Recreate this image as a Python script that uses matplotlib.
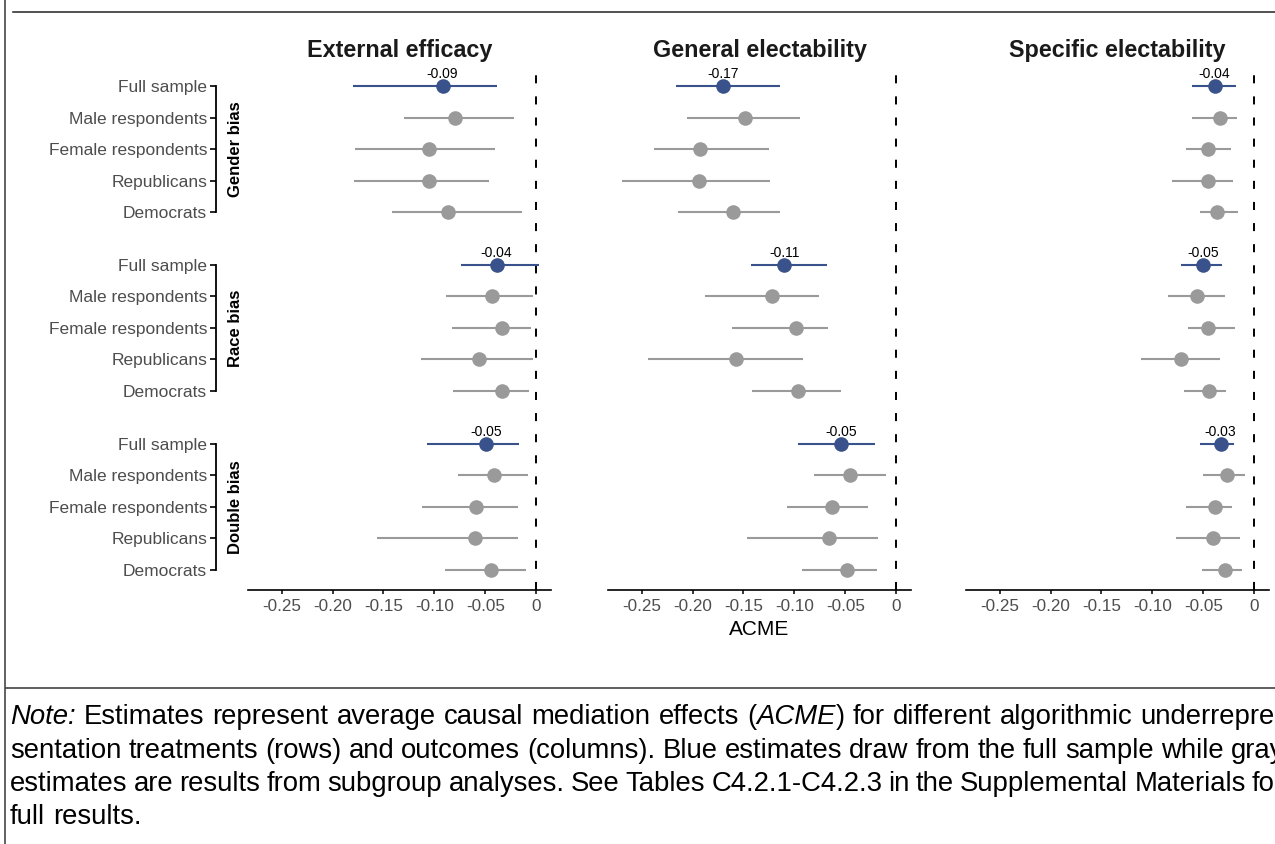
import matplotlib
matplotlib.use("Agg")
import matplotlib.pyplot as plt
import matplotlib.transforms as mtransforms
from matplotlib.lines import Line2D

plt.rcParams['font.family'] = ['Liberation Sans', 'DejaVu Sans']
plt.rcParams['lines.scale_dashes'] = False

# ---------------- data ----------------
outcomes = ["External efficacy", "General electability", "Specific electability"]
treatments = ["Gender bias", "Race bias", "Double bias"]
subgroups = ["Full sample", "Male respondents", "Female respondents", "Republicans", "Democrats"]
x_ticks = [-0.25, -0.20, -0.15, -0.10, -0.05, 0.0]
x_ticklabels = ["-0.25", "-0.20", "-0.15", "-0.10", "-0.05", "0"]

# order: gender (5), race (5), double (5)
est_external = [-0.092, -0.080, -0.105, -0.105, -0.087,
                -0.039, -0.043, -0.034, -0.056, -0.034,
                -0.049, -0.041, -0.059, -0.060, -0.044]
lo_external = [-0.180, -0.130, -0.178, -0.179, -0.142,
               -0.074, -0.089, -0.083, -0.113, -0.082,
               -0.107, -0.077, -0.112, -0.156, -0.090]
hi_external = [-0.039, -0.022, -0.040, -0.046, -0.014,
               0.003, -0.003, -0.005, -0.003, -0.007,
               -0.017, -0.008, -0.018, -0.018, -0.010]

est_general = [-0.170, -0.148, -0.193, -0.194, -0.160,
               -0.110, -0.122, -0.098, -0.157, -0.096,
               -0.054, -0.045, -0.063, -0.066, -0.048]
lo_general = [-0.216, -0.205, -0.238, -0.269, -0.214,
              -0.143, -0.188, -0.161, -0.244, -0.142,
              -0.096, -0.081, -0.107, -0.147, -0.093]
hi_general = [-0.114, -0.094, -0.125, -0.124, -0.114,
              -0.068, -0.076, -0.067, -0.092, -0.054,
              -0.021, -0.010, -0.028, -0.018, -0.019]

est_specific = [-0.039, -0.034, -0.045, -0.045, -0.037,
                -0.050, -0.056, -0.045, -0.072, -0.044,
                -0.033, -0.027, -0.039, -0.040, -0.029]
lo_specific = [-0.061, -0.061, -0.067, -0.081, -0.053,
               -0.072, -0.085, -0.065, -0.111, -0.069,
               -0.053, -0.050, -0.067, -0.077, -0.051]
hi_specific = [-0.018, -0.017, -0.023, -0.021, -0.016,
               -0.032, -0.029, -0.019, -0.034, -0.028,
               -0.020, -0.009, -0.022, -0.014, -0.012]

est_all = [est_external, est_general, est_specific]
lo_all = [lo_external, lo_general, lo_specific]
hi_all = [hi_external, hi_general, hi_specific]

# note: each line is a list of words; each word is a list of (text, style) pieces
def words(s, style="normal"):
    return [[(w, style)] for w in s.split()]

note_lines = [
    [[("Note:", "italic")]] + words("Estimates represent average causal mediation effects")
    + [[("(", "normal"), ("ACME", "italic"), (")", "normal")]]
    + words("for different algorithmic underrepre-"),
    words("sentation treatments (rows) and outcomes (columns). Blue estimates draw from the full sample while gray"),
    words("estimates are results from subgroup analyses. See Tables C4.2.1-C4.2.3 in the Supplemental Materials for"),
    words("full results."),
]
note_justify = [True, True, True, False]

# ---------------- layout ----------------
W, H = 1275, 844
DPI = 100
fig = plt.figure(figsize=(W / DPI, H / DPI), dpi=DPI)
fig.patch.set_facecolor("white")

def fx(x):
    return x / W

def fy(y):
    return 1 - y / H

BLUE = "#3A528B"
GRAY = "#9A9A9A"
TXT_GRAY = "#4D4D4D"

GROUP_STEP = 5.683
ypos = [g * GROUP_STEP + r for g in range(3) for r in range(5)]

panel_left_px = [248, 608, 966]
panel_w_px = 303
top_px, bot_px = 65, 590

axes = []
for j, outcome in enumerate(outcomes):
    ax = fig.add_axes([fx(panel_left_px[j]), fy(bot_px), panel_w_px / W, (bot_px - top_px) / H])
    axes.append(ax)
    ax.set_xlim(-0.283, 0.0145)
    ax.set_ylim(ypos[-1] + 0.64, ypos[0] - 0.67)
    ax.axvline(0, color="black", lw=1.4, linestyle=(0, (5.8, 9.4)), zorder=1)

    est, lo, hi = est_all[j], lo_all[j], hi_all[j]
    for i in range(len(est)):
        full = (i % 5 == 0)
        col = BLUE if full else GRAY
        ax.plot([lo[i], hi[i]], [ypos[i], ypos[i]], color=col, lw=1.5,
                solid_capstyle="butt", zorder=2, clip_on=False)
        ax.plot([est[i]], [ypos[i]], "o", color=col, ms=10.5, mec="none", zorder=3)
        if full:
            ax.annotate(f"{est[i]:.2f}", xy=(est[i], ypos[i]), xytext=(0, 5.8),
                        textcoords="offset points", ha="center", va="baseline",
                        fontsize=10, color="black", zorder=4)

    for s in ["top", "right", "left"]:
        ax.spines[s].set_visible(False)
    ax.spines["bottom"].set_linewidth(1.2)
    ax.spines["bottom"].set_color("black")
    ax.set_xticks(x_ticks)
    ax.set_xticklabels(x_ticklabels)
    ax.tick_params(axis="x", length=3, width=1.1, color="black", labelcolor=TXT_GRAY,
                   labelsize=12.3, pad=3.5)

    if j == 0:
        ax.spines["left"].set_position(("outward", 23.0))
        ax.set_yticks(ypos)
        ax.set_yticklabels(subgroups * 3)
        ax.tick_params(axis="y", length=4.3, width=1.2, color="black", labelcolor=TXT_GRAY,
                       labelsize=12.5, pad=2.2)
        trans = mtransforms.blended_transform_factory(ax.transAxes, ax.transData)
        xb = (216 - 248) / panel_w_px
        xg = (235 - 248) / panel_w_px
        for g, tname in enumerate(treatments):
            y0 = ypos[g * 5]
            y1 = ypos[g * 5 + 4]
            ax.plot([xb, xb], [y0, y1], color="black", lw=1.3, transform=trans,
                    clip_on=False, solid_capstyle="projecting")
            ax.text(xg, (y0 + y1) / 2, tname, rotation=90, ha="center", va="center",
                    fontsize=12, fontweight="bold", color="black", transform=trans)
    else:
        ax.set_yticks([])

    cx = panel_left_px[j] + panel_w_px / 2
    fig.text(fx(cx), fy(57), outcome, ha="center", va="baseline",
             fontsize=16.8, fontweight="bold", color="#1A1A1A")

fig.text(fx(panel_left_px[1] + panel_w_px / 2), fy(635), "ACME", ha="center",
         va="baseline", fontsize=15, color="black")

# ---------------- frame ----------------
fig.add_artist(Line2D([fx(5), fx(5)], [fy(0), fy(H)], color="#555555", lw=1.3))
fig.add_artist(Line2D([fx(13), fx(W)], [fy(11.5), fy(11.5)], color="#222222", lw=1.1))
fig.add_artist(Line2D([fx(6), fx(W)], [fy(688), fy(688)], color="#333333", lw=1.1))

# ---------------- note (justified, running past the cropped right edge) ----------------
renderer = fig.canvas.get_renderer()
NOTE_FS = 19.8
baselines = [724, 757.5, 791, 824.5]
x_left, x_right = 10.0, 1284.0
probe = fig.text(0, 0, "a a", fontsize=NOTE_FS)
probe2 = fig.text(0, 0, "aa", fontsize=NOTE_FS)
space_w = probe.get_window_extent(renderer).width - probe2.get_window_extent(renderer).width
probe.remove()
probe2.remove()
for line, yb, just in zip(note_lines, baselines, note_justify):
    placed = []
    for word in line:
        arts = []
        for txt, sty in word:
            t = fig.text(0, fy(yb), txt, fontsize=NOTE_FS, style=sty, va="baseline",
                         ha="left", color="black")
            w = t.get_window_extent(renderer).width
            arts.append((t, w))
        placed.append(arts)
    word_widths = [sum(w for _, w in arts) for arts in placed]
    total = sum(word_widths)
    n_gaps = len(placed) - 1
    if just and n_gaps > 0:
        gap = max((x_right - x_left - total) / n_gaps, 0.8 * space_w)
    else:
        gap = space_w
    xcur = x_left
    for arts, ww in zip(placed, word_widths):
        xx = xcur
        for t, w in arts:
            t.set_x(fx(xx))
            xx += w
        xcur += ww + gap

fig.savefig("out.png", dpi=DPI, facecolor="white")
